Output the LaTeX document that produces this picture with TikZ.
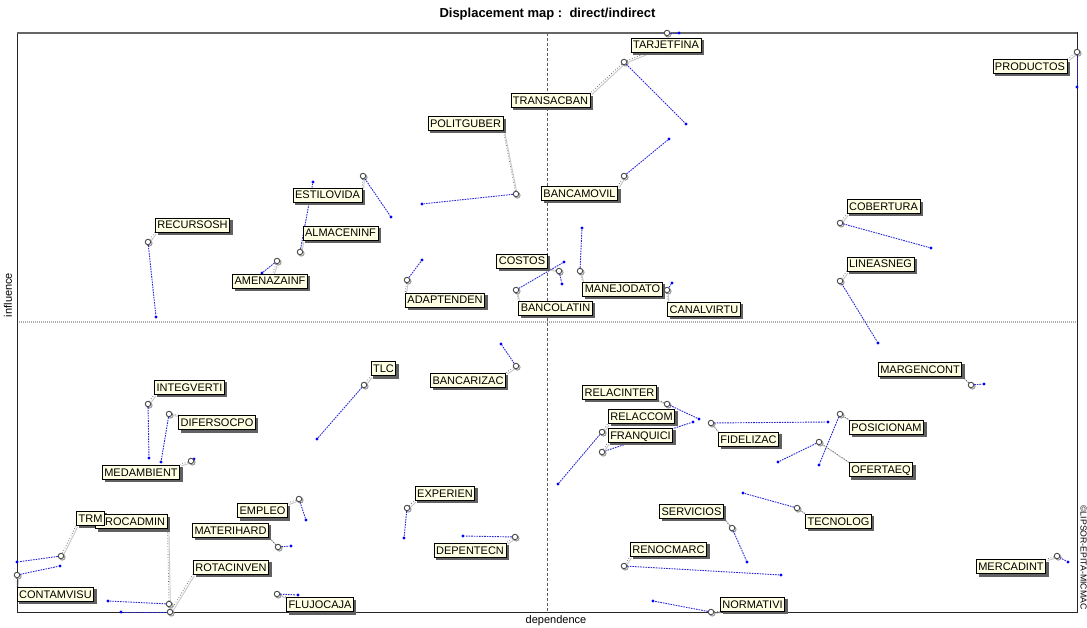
\documentclass[tikz,border=0pt]{standalone}
\usepackage{fontspec}
\setmainfont{Liberation Sans}
\definecolor{labfill}{RGB}{255,255,228}
\definecolor{lineblue}{RGB}{40,40,215}
\definecolor{dotblue}{RGB}{0,0,255}
\pgfdeclarelayer{back}
\pgfdeclarelayer{bg}
\pgfdeclarelayer{mid}
\pgfsetlayers{back,bg,mid,main}
\tikzset{
  lab/.style={draw=black, line width=0.8pt, fill=labfill, font=\fontsize{11}{13}\selectfont,
    inner xsep=2pt, inner ysep=3pt, text height=8pt, text depth=0pt},
  labshadow/.style={fill=black!62},
  dirpt/.style={circle, draw=black!70, line width=0.9pt, fill=white, inner sep=0pt, minimum size=5.5pt},
  dirsh/.style={circle, draw=black!40, line width=1pt, inner sep=0pt, minimum size=5.5pt},
  indpt/.style={circle, fill=dotblue, inner sep=0pt, minimum size=3.2pt},
  move/.style={draw=lineblue, line width=0.9pt, dash pattern=on 1.6pt off 1pt},
  leader/.style={draw=black!65, line width=0.7pt, dotted},
  leadersh/.style={draw=black!22, line width=0.9pt, transform canvas={shift={(1.4pt,-1.4pt)}}},
  frameline/.style={draw=black!85, line width=1pt},
  vaxis/.style={draw=black!65, line width=0.6pt, dash pattern=on 3pt off 2pt},
  haxis/.style={draw=black!32, line width=1.3pt, dash pattern=on 1pt off 1pt},
}
% #1 name, (#2,#3) direct point, (#4,#5) indirect point
\newcommand\mpt[5]{%
  \node[indpt] (b#1) at (#4,#5) {};
  \begin{pgfonlayer}{bg}
    \node[dirsh] (s#1) at ([shift={(1.3pt,-1.3pt)}]#2,#3) {};
  \end{pgfonlayer}
  \node[dirpt] (c#1) at (#2,#3) {};
  \begin{pgfonlayer}{bg}
    \draw[move] (c#1) -- (b#1);
  \end{pgfonlayer}}
% #1 name, #2 text, (#3,#4) label centre, #5 anchor the leader meets
\newcommand\mlab[5]{%
  \node[lab] (l#1) at (#3,#4) {#2};
  \begin{pgfonlayer}{mid}
    \fill[labshadow] ([shift={(2.6pt,-2.6pt)}]l#1.south west) rectangle ([shift={(2.6pt,-2.6pt)}]l#1.north east);
  \end{pgfonlayer}
  \begin{pgfonlayer}{bg}
    \draw[leadersh] (c#1) -- (l#1.#5);
    \draw[leader] (c#1) -- (l#1.#5);
  \end{pgfonlayer}}
\begin{document}
\begin{tikzpicture}[x=1pt,y=-1pt]
\useasboundingbox (0,0) rectangle (1087,628);
\begin{pgfonlayer}{back}
\fill[white] (0,0) rectangle (1087,628);
\end{pgfonlayer}
% frame and axes
\coordinate (tl) at (17,33);
\coordinate (br) at (1077,612);
\coordinate (tr) at (1077,33);
\coordinate (vtop) at (547,33);
\coordinate (vbot) at (547,612);
\coordinate (hl) at (17,322);
\coordinate (hr) at (1077,322);
\begin{pgfonlayer}{back}
\draw[vaxis] (vtop) -- (vbot);
\draw[haxis] (hl) -- (hr);
\draw[frameline] (tl) rectangle (br);
\draw[draw=black!60, line width=1.6pt] (tl) -- (tr);
\end{pgfonlayer}
\node[font=\bfseries\fontsize{13}{15}\selectfont] (title) at (547.5,14) {Displacement map :\ \ direct/indirect};
\node[font=\fontsize{11}{13}\selectfont] (xlab) at (556,621) {dependence};
\node[rotate=90, font=\fontsize{11}{13}\selectfont, anchor=base] (ylab) at (12,295) {influence};
\node[rotate=-90, font=\fontsize{8.7}{10}\selectfont] (copyr) at (1083.5,557.5) {©LIPSOR-EPITA-MICMAC};
% points
\mpt{TARJETFINA}{667}{33}{679}{33}
\mpt{TRANSACBAN}{624}{62}{686}{124}
\mpt{PRODUCTOS}{1077}{52}{1077}{87}
\mpt{POLITGUBER}{516}{194}{422}{204}
\mpt{BANCAMOVIL}{624}{176}{669}{139}
\mpt{ESTILOVIDA}{363}{176}{391}{217}
\mpt{ALMACENINF}{300}{252}{313}{182}
\mpt{RECURSOSH}{148}{242}{156}{317}
\mpt{AMENAZAINF}{277}{261}{262}{273}
\mpt{ADAPTENDEN}{407}{280}{422}{260}
\mpt{COSTOS}{559}{271}{562}{284}
\mpt{BANCOLATIN}{516}{290}{564}{262}
\mpt{MANEJODATO}{580}{271}{582}{228}
\mpt{CANALVIRTU}{667}{290}{672}{283}
\mpt{COBERTURA}{840}{223}{931}{248}
\mpt{LINEASNEG}{840}{281}{878}{343}
\mpt{MARGENCONT}{971}{385}{984}{384}
\mpt{TLC}{364}{385}{317}{439}
\mpt{BANCARIZAC}{516}{366}{501}{344}
\mpt{INTEGVERTI}{148}{404}{149}{458}
\mpt{DIFERSOCPO}{169}{414}{161}{462}
\mpt{MEDAMBIENT}{191}{461}{194}{459}
\mpt{RELACINTER}{667}{404}{699}{419}
\mpt{RELACCOM}{602}{432}{558}{484}
\mpt{FRANQUICI}{602}{452}{693}{422}
\mpt{FIDELIZAC}{711}{423}{828}{422}
\mpt{POSICIONAM}{840}{414}{819}{465}
\mpt{OFERTAEQ}{819}{442}{778}{462}
\mpt{EXPERIEN}{407}{508}{404}{538}
\mpt{DEPENTECN}{515}{537}{463}{536}
\mpt{SERVICIOS}{732}{528}{747}{562}
\mpt{TECNOLOG}{797}{508}{743}{493}
\mpt{RENOCMARC}{624}{566}{781}{575}
\mpt{NORMATIVI}{711}{612}{653}{601}
\mpt{MERCADINT}{1057}{556}{1068}{562}
\mpt{EMPLEO}{299}{499}{306}{520}
\mpt{MATERIHARD}{278}{547}{291}{546}
\mpt{TRM}{61}{556}{17}{562}
\mpt{PROCADMIN}{169}{604}{108}{601}
\mpt{ROTACINVEN}{170}{612}{121}{612}
\mpt{CONTAMVISU}{17}{575}{60}{566}
\mpt{FLUJOCAJA}{277}{594}{298}{595}
% labels
\mlab{TARJETFINA}{TARJETFINA}{666}{45}{north}
\mlab{TRANSACBAN}{TRANSACBAN}{550.5}{100.5}{north east}
\begin{pgfonlayer}{bg}
\draw[leadersh] (cTRANSACBAN) -- (lTARJETFINA);
\draw[leader] (cTRANSACBAN) -- (lTARJETFINA);
\end{pgfonlayer}
\mlab{PRODUCTOS}{PRODUCTOS}{1030}{66.5}{north east}
\mlab{POLITGUBER}{POLITGUBER}{465.5}{123.5}{south east}
\mlab{BANCAMOVIL}{BANCAMOVIL}{579.5}{193.5}{north east}
\mlab{ESTILOVIDA}{ESTILOVIDA}{327.5}{195}{north east}
\mlab{ALMACENINF}{ALMACENINF}{340.5}{233}{south west}
\mlab{RECURSOSH}{RECURSOSH}{192.5}{225}{south west}
\mlab{AMENAZAINF}{AMENAZAINF}{270}{281}{center}
\mlab{ADAPTENDEN}{ADAPTENDEN}{445}{300}{north west}
\mlab{COSTOS}{COSTOS}{522}{261}{south east}
\mlab{BANCOLATIN}{BANCOLATIN}{555.5}{308}{north west}
\mlab{MANEJODATO}{MANEJODATO}{622.5}{289}{north west}
\mlab{CANALVIRTU}{CANALVIRTU}{704}{309}{north west}
\mlab{COBERTURA}{COBERTURA}{883.5}{206.5}{south west}
\mlab{LINEASNEG}{LINEASNEG}{880.5}{264}{south west}
\mlab{MARGENCONT}{MARGENCONT}{920}{369}{south east}
\mlab{TLC}{TLC}{383.5}{368.5}{south west}
\mlab{BANCARIZAC}{BANCARIZAC}{468}{380}{north east}
\mlab{INTEGVERTI}{INTEGVERTI}{189.5}{387}{south west}
\mlab{DIFERSOCPO}{DIFERSOCPO}{217}{422.5}{north west}
\mlab{MEDAMBIENT}{MEDAMBIENT}{141}{472}{north east}
\mlab{RELACINTER}{RELACINTER}{619.5}{392}{south east}
\mlab{RELACCOM}{RELACCOM}{641.5}{416}{south west}
\mlab{FRANQUICI}{FRANQUICI}{640.5}{435}{south west}
\mlab{FIDELIZAC}{FIDELIZAC}{748.5}{439}{north west}
\mlab{POSICIONAM}{POSICIONAM}{886.5}{427}{north west}
\mlab{OFERTAEQ}{OFERTAEQ}{881}{469.5}{north west}
\mlab{EXPERIEN}{EXPERIEN}{445}{493}{south west}
\mlab{DEPENTECN}{DEPENTECN}{470}{550}{north east}
\mlab{SERVICIOS}{SERVICIOS}{691.5}{511}{south east}
\mlab{TECNOLOG}{TECNOLOG}{838.5}{521}{north west}
\mlab{RENOCMARC}{RENOCMARC}{668.5}{549}{south west}
\mlab{NORMATIVI}{NORMATIVI}{752.5}{604}{south west}
\mlab{MERCADINT}{MERCADINT}{1011}{566.5}{north east}
\mlab{EMPLEO}{EMPLEO}{262.5}{510.5}{north east}
\mlab{MATERIHARD}{MATERIHARD}{230.5}{530}{south east}
\mlab{PROCADMIN}{PROCADMIN}{131.5}{521.5}{south east}
\mlab{TRM}{TRM}{90.5}{518}{south west}
\mlab{ROTACINVEN}{ROTACINVEN}{231}{567}{south west}
\mlab{CONTAMVISU}{CONTAMVISU}{55.5}{594}{north west}
\mlab{FLUJOCAJA}{FLUJOCAJA}{320}{604.5}{north west}
\end{tikzpicture}
\end{document}
